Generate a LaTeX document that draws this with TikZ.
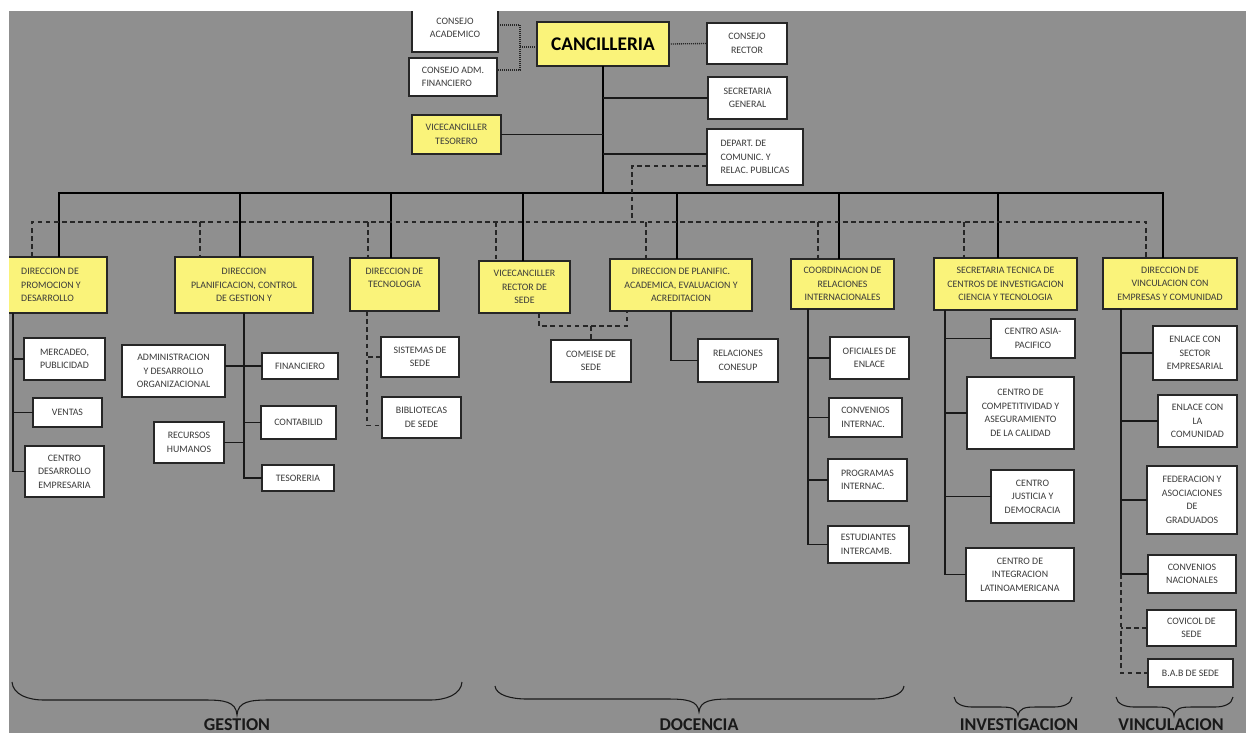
\documentclass[tikz,border=0pt]{standalone}
\usepackage{fontspec}
\setmainfont{Carlito}
\usetikzlibrary{calc}
\definecolor{bg}{RGB}{143,143,143}
\definecolor{ylw}{RGB}{250,243,122}
\definecolor{txt}{RGB}{58,58,58}
\tikzset{
 box/.style={draw=black!85, line width=0.9pt, fill=white, inner sep=0pt, outer sep=0pt, align=center, text=txt, font=\fontsize{7.4}{10.2}\selectfont},
 ybox/.style={box, fill=ylw, line width=1.1pt},
 lbox/.style={box, align=left},
 trunk/.style={line width=1.7pt, black},
 twig/.style={line width=0.9pt, black!90},
 dsh/.style={line width=1pt, black!85, dash pattern=on 3.5pt off 2.6pt},
 dot/.style={line width=1pt, black!85, dash pattern=on 0.75pt off 0.75pt},
 brc/.style={line width=0.8pt, black!90},
 grp/.style={font=\fontsize{13.5}{16}\selectfont\bfseries, text=black!90, anchor=base, inner sep=0pt},
}
\newcommand\obx[7]{%
 \pgfmathsetmacro\bxw{(#4-#2)*0.75}%
 \pgfmathsetmacro\bxh{(#5-#3)*0.75}%
 \node[#6, minimum width=\bxw pt, minimum height=\bxh pt] (#1) at ({(#2+#4)/2},{(#3+#5)/2}) {#7};}
\newcommand\obrace[7]{%
 \draw[brc] (#1,#4) .. controls +(1,{(#5-#4)*0.7}) and +({-#7*0.5},0) .. ({#1+#7},#5) -- ({#3-#7},#5)
   .. controls +({#7*0.6},0) and +(-1,{(#5-#6)*0.9}) .. (#3,#6)
   .. controls +(1,{(#5-#6)*0.9}) and +({-#7*0.6},0) .. ({#3+#7},#5) -- ({#2-#7},#5)
   .. controls +({#7*0.5},0) and +(-1,{(#5-#4)*0.7}) .. (#2,#4);}
\begin{document}
\begin{tikzpicture}[x=0.75pt,y=-0.75pt]
\useasboundingbox (0,0) rectangle (1246,733);
\fill[bg] (0,0) rectangle (1246,733);

% top level
\obx{canc}{537}{22}{669}{66}{ybox, line width=1.6pt, text=black, font=\fontsize{14.5}{16}\selectfont\bfseries}{CANCILLERIA}
\obx{cacad}{412}{4}{498}{52}{box}{CONSEJO\\ACADEMICO}
\obx{cadm}{409}{58}{497}{96}{lbox}{CONSEJO ADM.\\FINANCIERO}
\obx{vtes}{412}{115}{501}{154}{ybox}{VICECANCILLER\\TESORERO}
\obx{crect}{707}{23}{787}{64}{box}{CONSEJO\\RECTOR}
\obx{sgen}{708}{77}{787}{119}{box}{SECRETARIA\\GENERAL}
\obx{dep}{707}{129}{803}{185}{lbox}{DEPART. DE\\COMUNIC. Y\\RELAC. PUBLICAS}

% second level
\obx{promo}{-5}{257}{107}{313}{ybox, align=left}{DIRECCION DE\\PROMOCION Y\\DESARROLLO}
\obx{planif}{175}{257}{313}{313}{ybox}{DIRECCION\\PLANIFICACION, CONTROL\\DE GESTION Y}
\obx{tecno}{350}{258}{439}{311}{ybox}{DIRECCION DE\\TECNOLOGIA\\\mbox{}}
\obx{vrect}{479}{261}{570}{313}{ybox}{VICECANCILLER\\RECTOR DE\\SEDE}
\obx{planac}{610}{259}{752}{311}{ybox}{DIRECCION DE PLANIFIC.\\ACADEMICA, EVALUACION Y\\ACREDITACION}
\obx{coord}{791}{259}{894}{309}{ybox}{COORDINACION DE\\RELACIONES\\INTERNACIONALES}
\obx{sectec}{934}{258}{1077}{310}{ybox}{SECRETARIA TECNICA DE\\CENTROS DE INVESTIGACION\\CIENCIA Y TECNOLOGIA}
\obx{vinc}{1103}{258}{1237}{309}{ybox}{DIRECCION DE\\VINCULACION CON\\EMPRESAS Y COMUNIDAD}

% promocion
\obx{merc}{24}{338}{105}{380}{box}{MERCADEO,\\PUBLICIDAD}
\obx{vent}{33}{398}{102}{427}{box}{VENTAS}
\obx{cde}{25}{446}{104}{497}{box}{CENTRO\\DESARROLLO\\EMPRESARIA}
% planificacion
\obx{adm}{122}{345}{225}{397}{box}{ADMINISTRACION\\Y DESARROLLO\\ORGANIZACIONAL}
\obx{fin}{262}{353}{338}{379}{box}{FINANCIERO}
\obx{cont}{261}{406}{336}{439}{box}{CONTABILID}
\obx{rrhh}{154}{422}{224}{463}{box}{RECURSOS\\HUMANOS}
\obx{tes}{262}{465}{334}{491}{box}{TESORERIA}
% tecnologia
\obx{sis}{381}{337}{459}{377}{box}{SISTEMAS DE\\SEDE}
\obx{bib}{382}{397}{461}{438}{box}{BIBLIOTECAS\\DE SEDE}
% docencia
\obx{comeise}{551}{340}{631}{382}{box}{COMEISE DE\\SEDE}
\obx{conesup}{698}{339}{778}{382}{box}{RELACIONES\\CONESUP}
% coordinacion
\obx{ofi}{830}{337}{909}{379}{box}{OFICIALES DE\\ENLACE}
\obx{convi}{829}{398}{902}{437}{lbox}{CONVENIOS\\INTERNAC.}
\obx{prog}{828}{459}{907}{501}{lbox}{PROGRAMAS\\INTERNAC.}
\obx{estu}{828}{526}{909}{563}{lbox}{ESTUDIANTES\\INTERCAMB.}
% secretaria tecnica
\obx{asia}{991}{319}{1075}{358}{box}{CENTRO ASIA-\\PACIFICO}
\obx{comp}{967}{377}{1074}{449}{box}{CENTRO DE\\COMPETITIVIDAD Y\\ASEGURAMIENTO\\DE LA CALIDAD}
\obx{just}{991}{470}{1074}{523}{box}{CENTRO\\JUSTICIA Y\\DEMOCRACIA}
\obx{integ}{966}{548}{1074}{601}{box}{CENTRO DE\\INTEGRACION\\LATINOAMERICANA}
% vinculacion
\obx{ens}{1153}{326}{1237}{380}{box}{ENLACE CON\\SECTOR\\EMPRESARIAL}
\obx{enc}{1158}{395}{1237}{447}{box}{ENLACE CON\\LA\\COMUNIDAD}
\obx{fed}{1147}{466}{1237}{534}{box}{FEDERACION Y\\ASOCIACIONES\\DE\\GRADUADOS}
\obx{cnac}{1148}{555}{1236}{593}{box}{CONVENIOS\\NACIONALES}
\obx{covi}{1147}{610}{1236}{646}{box}{COVICOL DE\\SEDE}
\obx{bab}{1148}{659}{1233}{687}{box}{B.A.B DE SEDE}

% ---- connectors: top
\coordinate (dj) at (520,47);
\coordinate (acadR) at ($(cacad.east)+(0,-3)$);
\coordinate (admR) at ($(cadm.east)+(0,-7)$);
\draw[dot] (acadR) -| (dj) |- (admR);
\draw[dot] (dj) -- (dj -| canc.west);
\draw[dot] (canc.east) -- (crect.west);

\coordinate (barL) at (59,193);
\coordinate (barR) at (1163,193);
\draw[trunk] (canc.south) -- (canc.south |- barL);
\draw[trunk, line cap=rect] (barL) -- (barR);
\draw[twig] (sgen.west) -- (sgen.west -| canc.south);
\draw[twig] (vtes.east) -- (vtes.east -| canc.south);
\coordinate (depL) at ($(dep.west)+(0,-3)$);
\coordinate (depD) at ($(dep.west)+(0,9)$);
\draw[twig] (depL) -- (depL -| canc.south);
\coordinate (dk) at (632,222);
\draw[dsh] (depD) -| (dk);

\foreach \n/\x in {promo/59, planif/240, tecno/391, vrect/523, planac/677, coord/839, sectec/998, vinc/1163}{
  \coordinate (s\n) at (\x,193);
  \draw[trunk] (s\n) -- (s\n |- \n.north);
}
\coordinate (dL) at (32,222);
\coordinate (dR) at (1146,222);
\draw[dsh] (dL |- promo.north) -- (dL) -- (dR) -- (dR |- vinc.north);
\foreach \n/\x in {planif/200, tecno/368, vrect/496, planac/646, coord/818, sectec/964}{
  \coordinate (q\n) at (\x,222);
  \draw[dsh] (q\n) -- (q\n |- \n.north);
}

% promocion
\coordinate (pv) at (13,313);
\draw[twig] (pv) |- (cde.west);
\draw[twig] (merc.west) -- (merc.west -| pv);
\draw[twig] (vent.west) -- (vent.west -| pv);
% planificacion
\draw[twig] (planif.south) |- (tes.west);
\draw[twig] (adm.east |- fin.west) -- (fin.west);
\draw[twig] (cont.west) -- (cont.west -| planif.south);
\draw[twig] (rrhh.east) -- (rrhh.east -| planif.south);
% tecnologia
\coordinate (tv) at (367,311);
\coordinate (bibL) at ($(bib.west)+(0,8)$);
\draw[dsh] (tv) |- (bibL);
\draw[dsh] (sis.west) -- (sis.west -| tv);
% docencia
\coordinate (vd) at (539,326);
\coordinate (pd) at (627,326);
\draw[dsh] (vd |- vrect.south) -- (vd) -- (pd) -- (pd |- planac.south);
\draw[dsh] (comeise.north |- vd) -- (comeise.north);
\coordinate (pa) at (671,311);
\draw[twig] (pa) |- (conesup.west);
% coordinacion
\coordinate (cv) at (808,309);
\draw[twig] (cv) |- (estu.west);
\foreach \n in {ofi, convi, prog} \draw[twig] (\n.west) -- (\n.west -| cv);
% secretaria tecnica
\coordinate (sv) at (945,310);
\draw[twig] (sv) |- (integ.west);
\foreach \n in {asia, comp, just} \draw[twig] (\n.west) -- (\n.west -| sv);
% vinculacion
\coordinate (vv) at (1121,309);
\draw[twig] (vv) |- (cnac.west);
\foreach \n in {ens, enc, fed} \draw[twig] (\n.west) -- (\n.west -| vv);
\draw[dsh] (cnac.west -| vv) |- (bab.west);
\draw[dsh] (covi.west) -- (covi.west -| vv);

% braces and group labels
\obrace{12}{462}{237}{682}{700}{715}{32}
\obrace{495}{904}{699}{686}{699}{712}{32}
\obrace{954}{1072}{1018}{697}{707}{716}{18}
\obrace{1116}{1233}{1174}{697}{707}{716}{18}
\node[grp] (lgest) at (237,730) {GESTION};
\node[grp] (ldoc) at (699,730) {DOCENCIA};
\node[grp] (linv) at (1019,730) {INVESTIGACION};
\node[grp] (lvin) at (1171,730) {VINCULACION};

% page margins
\fill[white] (0,0) rectangle (1246,11);
\fill[white] (0,0) rectangle (9,733);
\end{tikzpicture}
\end{document}
